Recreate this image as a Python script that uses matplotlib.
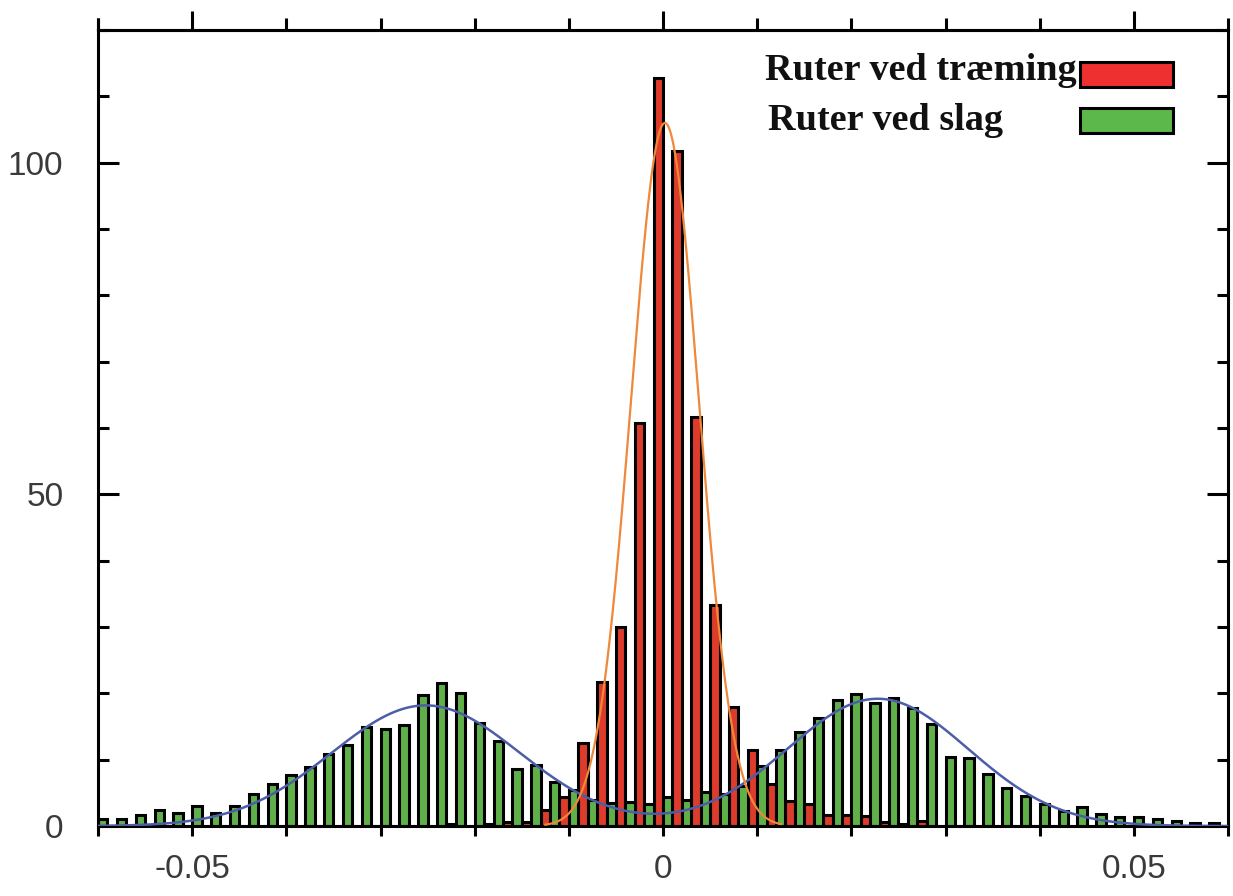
"""Histogram of route deviations with Gaussian fits."""

import numpy as np
import matplotlib
matplotlib.use("Agg")
import matplotlib.pyplot as plt
from matplotlib.patches import Rectangle
from matplotlib.ticker import MultipleLocator

# bin centres of the histogram (width 0.002)
bin_centers = np.round(np.arange(-0.060, 0.060, 0.002), 4)

# "Ruter ved slag" counts per bin
slag = [1.0, 1.0, 1.6, 2.5, 2.0, 3.1, 2.0, 3.0, 4.9, 6.4,
        7.7, 8.9, 10.9, 12.2, 15.0, 14.6, 15.2, 19.7, 21.5, 20.1,
        15.5, 12.8, 8.6, 9.2, 6.6, 5.4, 3.9, 3.5, 3.6, 3.4,
        4.4, 3.9, 5.1, 4.9, 6.0, 9.0, 11.4, 14.2, 16.3, 19.0,
        19.9, 18.6, 19.3, 17.8, 15.4, 10.4, 10.2, 7.8, 5.7, 4.6,
        3.4, 2.3, 2.9, 1.9, 1.4, 1.4, 1.0, 0.7, 0.5, 0.5]

# "Ruter ved træming" counts per bin
traeming = [0, 0, 0, 0, 0, 0, 0, 0, 0, 0,
            0, 0, 0, 0, 0, 0, 0, 0, 0, 0.3,
            0, 0.3, 0.6, 0.6, 2.4, 4.4, 12.5, 21.7, 30.0, 60.8,
            112.8, 101.8, 61.7, 33.3, 18.0, 11.5, 6.3, 3.8, 3.3, 1.7,
            1.7, 1.5, 0.6, 0.3, 0.8, 0, 0, 0, 0, 0,
            0, 0, 0, 0, 0, 0, 0, 0, 0, 0]

labels = ["Ruter ved træming", "Ruter ved slag"]

# fitted gaussians: (amplitude, mean, sigma)
fit_traeming = (106.0, 0.0002, 0.0036)
fit_slag = [(18.2, -0.0252, 0.0100), (19.2, 0.0228, 0.0096)]


def gauss(x, a, mu, s):
    return a * np.exp(-(x - mu) ** 2 / (2 * s ** 2))


fig = plt.figure(figsize=(12.33, 8.96), dpi=100)
ax = fig.add_axes([0.0795, 0.078, 0.9165, 0.8885])

red = "#dd3b2c"
green = "#5fb049"
bw = 0.001

ax.bar(bin_centers - bw / 2, traeming, width=bw, color=red,
       edgecolor="black", linewidth=2.2, zorder=2)
ax.bar(bin_centers + bw / 2, slag, width=bw, color=green,
       edgecolor="black", linewidth=2.2, zorder=2)

xs = np.linspace(-0.06, 0.06, 800)
ys = sum(gauss(xs, *p) for p in fit_slag)
ax.plot(xs, ys, color="#4d5ea8", linewidth=1.8, zorder=3)

xo = np.linspace(-0.0125, 0.0125, 400)
ax.plot(xo, gauss(xo, *fit_traeming), color="#f0883a", linewidth=1.6, zorder=3)

ax.set_xlim(-0.06, 0.06)
ax.set_ylim(0, 120)

for sp in ax.spines.values():
    sp.set_linewidth(2.2)
# left spine pokes a little above the frame, as in the original
ax.plot([0, 0], [1, 1.015], transform=ax.transAxes, color="black",
        linewidth=2.2, clip_on=False, solid_capstyle="butt")

ax.set_xticks([-0.05, 0, 0.05])
ax.set_xticklabels(["-0.05", "0", "0.05"])
ax.xaxis.set_minor_locator(MultipleLocator(0.01))
ax.set_yticks([0, 50, 100])
ax.yaxis.set_minor_locator(MultipleLocator(10))

for lab in ax.get_xticklabels() + ax.get_yticklabels():
    lab.set_fontfamily("Liberation Sans")
    lab.set_fontsize(24)
    lab.set_color("#3a3a3a")

ax.tick_params(axis="x", which="both", direction="out", length=7,
               width=2.2, top=False, pad=13)
ax.tick_params(axis="y", which="major", direction="in", length=15,
               width=2.2, left=True, right=True, pad=25)
ax.tick_params(axis="y", which="minor", direction="in", length=8,
               width=2.2, left=True, right=True)

top = ax.secondary_xaxis("top")
top.set_xticks([-0.05, 0, 0.05])
top.xaxis.set_minor_locator(MultipleLocator(0.01))
top.tick_params(axis="x", which="major", direction="out", length=14,
                width=2.2, labeltop=False)
top.tick_params(axis="x", which="minor", direction="out", length=9,
                width=2.2)
top.spines["top"].set_linewidth(2.2)

# legend: left-aligned text followed by a filled sample box
leg_font = dict(family="Liberation Serif", weight="bold", size=27.5)
leg_colors = ["#ee3030", "#5cb84a"]
for i, (lab, col) in enumerate(zip(labels, leg_colors)):
    ax.text(0.5905 + 0.0025 * i, 0.9372 - 0.0628 * i, lab,
            transform=ax.transAxes, ha="left", va="baseline",
            color="#111111", **leg_font)
    ax.add_patch(Rectangle((0.869, 0.9284 - 0.0578 * i), 0.0823, 0.0314,
                           transform=ax.transAxes, facecolor=col,
                           edgecolor="black", linewidth=2.2,
                           clip_on=False, zorder=4))

fig.savefig("out.png", dpi=100)
